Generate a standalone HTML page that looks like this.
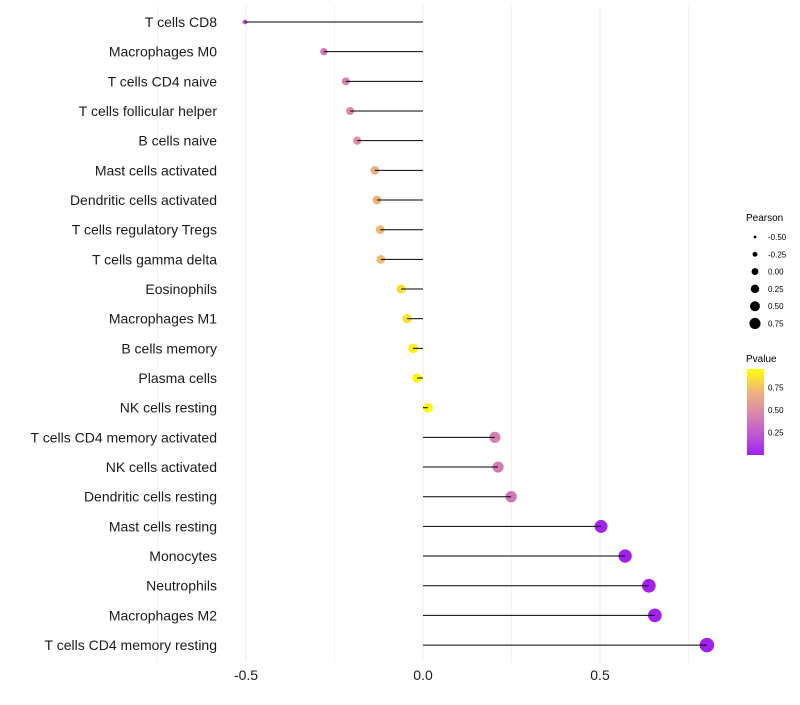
<!DOCTYPE html>
<html><head><meta charset="utf-8"><style>
body{margin:0;background:#fff;font-family:"Liberation Sans",sans-serif}
</style></head><body>
<svg id="chart" width="800" height="700" xmlns="http://www.w3.org/2000/svg">
<defs><linearGradient id="pg" x1="0" y1="1" x2="0" y2="0">
<stop offset="0" stop-color="#a020f0"/><stop offset="0.25" stop-color="#c05ad0"/><stop offset="0.5" stop-color="#d98aa8"/><stop offset="0.75" stop-color="#f0b878"/><stop offset="1" stop-color="#ffff00"/>
</linearGradient></defs>
<g id="grid"></g><g id="points"></g><g id="marks"></g><g id="labels"></g><g id="legend"></g>
</svg>
<script>
const cells=["T cells CD8","Macrophages M0","T cells CD4 naive","T cells follicular helper","B cells naive","Mast cells activated","Dendritic cells activated","T cells regulatory  Tregs","T cells gamma delta","Eosinophils","Macrophages M1","B cells memory","Plasma cells","NK cells resting","T cells CD4 memory activated","NK cells activated","Dendritic cells resting","Mast cells resting","Monocytes","Neutrophils","Macrophages M2","T cells CD4 memory resting"];
const pearson=[-0.503,-0.28,-0.218,-0.206,-0.186,-0.136,-0.13,-0.121,-0.119,-0.062,-0.045,-0.028,-0.017,0.014,0.203,0.212,0.249,0.503,0.571,0.638,0.655,0.802];
const pvalue=[0.22,0.4,0.47,0.5,0.53,0.7,0.72,0.75,0.76,0.88,0.9,0.94,0.97,0.98,0.45,0.44,0.4,0.02,0.01,0.005,0.003,0.0];
const xTicks=[-0.5,0,0.5];
const xTickLabels=["-0.5","0.0","0.5"];
const sizeBreaks=[-0.5,-0.25,0,0.25,0.5,0.75];
const sizeLabels=["-0.50","-0.25","0.00","0.25","0.50","0.75"];
const pBreaks=[0.25,0.5,0.75];
const pLabels=["0.25","0.50","0.75"];
const NS="http://www.w3.org/2000/svg";
const x=v=>423+v*354;
const y=i=>22+i*29.67;
const r=v=>Math.sqrt(Math.max(v+0.66,0.02)*36);
const stops=[[0,[160,32,240]],[0.25,[192,90,208]],[0.5,[217,138,168]],[0.75,[240,184,120]],[1,[255,255,0]]];
function col(p){for(let k=1;k<stops.length;k++){if(p<=stops[k][0]){const a=stops[k-1],b=stops[k],t=(p-a[0])/(b[0]-a[0]);return "rgb("+a[1].map((c,j)=>Math.round(c+(b[1][j]-c)*t)).join(",")+")";}}return "rgb(255,255,0)";}
function el(t,a,parent){const e=document.createElementNS(NS,t);for(const k in a)e.setAttribute(k,a[k]);document.getElementById(parent).appendChild(e);return e;}
[-0.75,-0.5,-0.25,0,0.25,0.5,0.75].forEach(v=>{const g=el("line",{x1:x(v),x2:x(v),y1:5,y2:662,stroke:"#ececec","stroke-width":Number.isInteger(v*2)?1:0.6},"grid");

});
xTicks.forEach((v,i)=>{const t=el("text",{x:x(v),y:680,"text-anchor":"middle","font-size":14,fill:"#1a1a1a"},"labels");t.textContent=xTickLabels[i];

});
cells.forEach((c,i)=>{
const pt=el("circle",{cx:x(pearson[i]),cy:y(i),r:r(pearson[i]),fill:col(pvalue[i])},"points");


const ln=el("line",{x1:x(0),x2:x(pearson[i]),y1:y(i),y2:y(i),stroke:"#000","stroke-width":1},"marks");


const t=el("text",{x:217,y:y(i)+5,"text-anchor":"end","font-size":14,fill:"#1a1a1a"},"labels");t.textContent=c;


});
const lt=el("text",{x:746,y:221,"font-size":10,fill:"#000"},"legend");lt.textContent="Pearson";


sizeBreaks.forEach((v,i)=>{const cy=237+i*17.3;
const c=el("circle",{cx:755,cy:cy,r:Math.max(r(v)*0.95-1.2,1.4),fill:"#000"},"legend");


const t=el("text",{x:768,y:cy+3,"font-size":8,fill:"#000"},"legend");t.textContent=sizeLabels[i];

});
const pt=el("text",{x:746,y:362,"font-size":10,fill:"#000"},"legend");pt.textContent="Pvalue";


const bar=el("rect",{x:747,y:369,width:17,height:86,fill:"url(#pg)"},"legend");


pBreaks.forEach((v,i)=>{const yy=455-v*90;
const t=el("text",{x:768,y:yy+3,"font-size":8,fill:"#000"},"legend");t.textContent=pLabels[i];

});
</script>
</body></html>
